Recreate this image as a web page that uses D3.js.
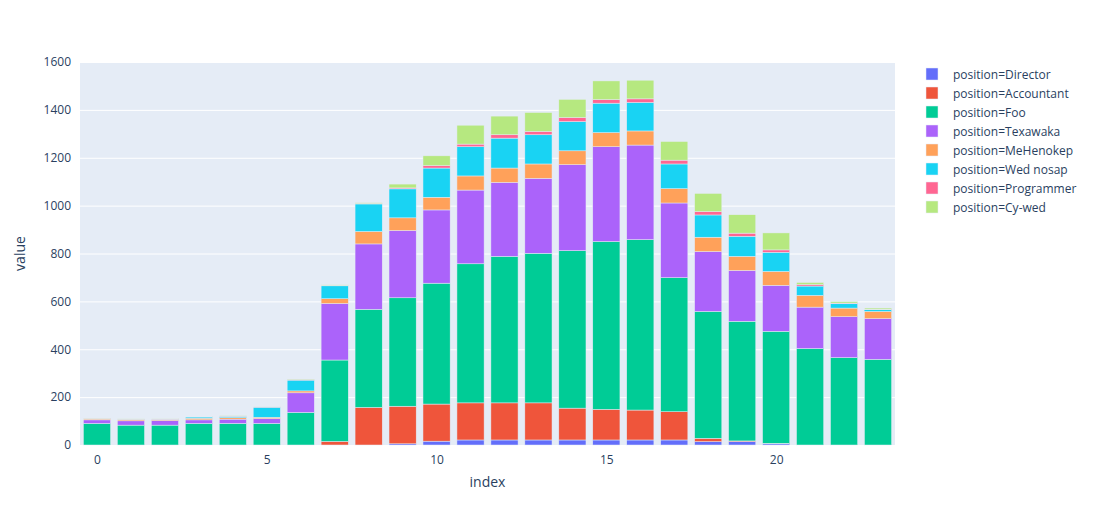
<!DOCTYPE html>
<html>
<head>
<meta charset="utf-8">
<script src="https://cdn.jsdelivr.net/npm/d3@7"></script>
<style>
  body { margin: 0; background: #fff; }
  svg text { font-family: "Open Sans", "Noto Sans", sans-serif; fill: #2a3f5f; }
</style>
</head>
<body>
<svg id="chart" width="1101" height="525"></svg>
<script>
// categories / series
var positions = ['Director', 'Accountant', 'Foo', 'Texawaka', 'MeHenokep', 'Wed nosap', 'Programmer', 'Cy-wed'];
var colors = ['#636efa', '#EF553B', '#00cc96', '#ab63fa', '#FFA15A', '#19d3f3', '#FF6692', '#B6E880'];

var director   = [0, 0, 0, 0, 0, 0, 0, 0, 0, 5, 16, 21, 21, 21, 21, 21, 21, 21, 14, 14, 5, 0, 0, 0];
var accountant = [0, 0, 0, 0, 0, 0, 0, 15, 157, 157, 155, 155, 155, 155, 133, 128, 125, 118, 14, 3, 2, 0, 0, 0];
var foo        = [90, 83, 83, 90, 90, 90, 136, 340, 410, 453, 505, 581, 612, 625, 658, 701, 712, 560, 530, 500, 468, 403, 365, 358];
var texawaka   = [15, 18, 19, 15, 18, 20, 82, 236, 273, 281, 306, 308, 309, 313, 359, 396, 395, 312, 250, 212, 192, 173, 171, 170];
var mehenokep  = [4, 5, 5, 7, 6, 6, 8, 20, 52, 53, 53, 59, 60, 60, 58, 59, 59, 60, 60, 59, 58, 49, 36, 30];
var wednosap   = [1, 1, 1, 5, 6, 42, 45, 54, 115, 121, 122, 122, 125, 122, 122, 123, 119, 103, 93, 84, 80, 39, 18, 7];
var programmer = [1, 1, 1, 1, 1, 1, 2, 2, 2, 4, 10, 11, 14, 14, 17, 15, 15, 16, 14, 13, 10, 6, 3, 2];
var cywed      = [1, 1, 2, 2, 2, 1, 2, 2, 3, 16, 41, 79, 78, 79, 76, 78, 78, 78, 76, 77, 71, 9, 6, 5];

var series = [director, accountant, foo, texawaka, mehenokep, wednosap, programmer, cywed];
var index = d3.range(director.length);
var yTicks = [0, 200, 400, 600, 800, 1000, 1200, 1400, 1600];
var xTicks = [0, 5, 10, 15, 20];

var svg = d3.select('#chart');
var plotL = 80, plotR = 895, plotT = 62, plotB = 445;

var x = d3.scaleLinear().domain([-0.5, 23.5]).range([plotL, plotR]);
var y = d3.scaleLinear().domain([0, 1600]).range([plotB, plotT]);

// plot background
svg.append('rect')
  .attr('x', plotL).attr('y', plotT)
  .attr('width', plotR - plotL).attr('height', plotB - plotT)
  .attr('fill', '#E5ECF6');

// grid + y ticks
var yAxis = d3.axisLeft(y).tickValues(yTicks).tickFormat(d3.format('d'))
  .tickSize(-(plotR - plotL)).tickPadding(8);
var gy = svg.append('g').attr('transform', 'translate(' + plotL + ',0)').call(yAxis);
gy.select('.domain').remove();
gy.selectAll('.tick line').attr('stroke', '#fff').attr('stroke-width', 1);
gy.selectAll('.tick text').attr('font-size', 12).attr('fill', '#2a3f5f').attr('dx', -1);

var xAxis = d3.axisBottom(x).tickValues(xTicks).tickSize(0).tickPadding(8);
var gx = svg.append('g').attr('transform', 'translate(0,' + plotB + ')').call(xAxis);
gx.select('.domain').remove();
gx.selectAll('.tick text').attr('font-size', 12).attr('fill', '#2a3f5f').attr('dy', '0.9em');

// stacked bars
var rows = index.map(function (i) {
  var r = { index: i };
  positions.forEach(function (p, k) { r[p] = series[k][i]; });
  return r;
});
var stacked = d3.stack().keys(positions)(rows);
var bw = (x(1) - x(0)) * 0.8;

svg.append('g').selectAll('g.layer')
  .data(stacked)
  .join('g')
    .attr('class', 'layer')
    .attr('fill', function (d, k) { return colors[k]; })
  .selectAll('rect')
  .data(function (d) { return d; })
  .join('rect')
    .attr('x', function (d) { return x(d.data.index) - bw / 2; })
    .attr('y', function (d) { return y(d[1]); })
    .attr('width', bw)
    .attr('height', function (d) { return Math.max(0, y(d[0]) - y(d[1])); })
    .attr('stroke', '#E5ECF6')
    .attr('stroke-width', 0.5);

// axis titles
svg.append('text')
  .attr('x', (plotL + plotR) / 2).attr('y', 487)
  .attr('text-anchor', 'middle').attr('font-size', 14)
  .text('index');
svg.append('text')
  .attr('transform', 'translate(25,' + ((plotT + plotB) / 2) + ') rotate(-90)')
  .attr('text-anchor', 'middle').attr('font-size', 14)
  .text('value');

// legend
var legend = svg.append('g').attr('transform', 'translate(926,74)');
var item = legend.selectAll('g')
  .data(positions)
  .join('g')
    .attr('transform', function (d, k) { return 'translate(0,' + (k * 19) + ')'; });
item.append('rect')
  .attr('x', 0).attr('y', -6).attr('width', 12).attr('height', 12)
  .attr('fill', function (d, k) { return colors[k]; })
  .attr('stroke', '#E5ECF6').attr('stroke-width', 0.5);
item.append('text')
  .attr('x', 27).attr('y', 4.5)
  .attr('font-size', 12)
  .text(function (d) { return 'position=' + d; });
</script>
</body>
</html>
